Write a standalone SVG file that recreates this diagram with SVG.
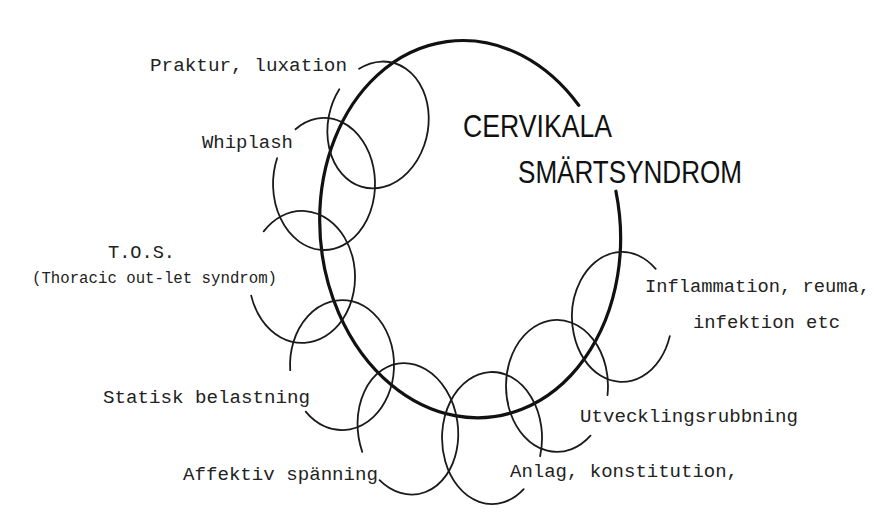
<svg xmlns="http://www.w3.org/2000/svg" width="874" height="526" viewBox="0 0 874 526">
<style>
.bg{fill:#ffffff}
.ring{fill:none;stroke:#1a1a1a;stroke-width:1.8;stroke-linecap:round}
.main{fill:none;stroke:#111;stroke-width:3.2;stroke-linecap:round}
.lbl{font-family:"Liberation Mono","DejaVu Sans Mono",monospace;font-size:19px;fill:#222}
.small{font-size:16px}
.title{font-family:"Liberation Sans","DejaVu Sans",sans-serif;font-size:31px;fill:#111}
</style>
<rect class="bg" x="0" y="0" width="874" height="526"/>
<g id="center">
  <path class="main" d="M 578.7 105.3 A 150 189 -6 1 0 615.9 191.2"/>
  <text class="title" x="463" y="137" textLength="149" lengthAdjust="spacingAndGlyphs">CERVIKALA</text>
  <text class="title" x="518" y="183" textLength="224" lengthAdjust="spacingAndGlyphs">SMÄRTSYNDROM</text>
</g>
<g id="praktur">
  <path class="ring" transform="translate(378 125) rotate(12)" d="M -30.2 -51.0 A 50 64 0 1 1 -45.3 -27.0"/>
  <text class="lbl" x="150" y="71" textLength="197" lengthAdjust="spacingAndGlyphs">Praktur, luxation</text>
</g>
<g id="whiplash">
  <path class="ring" transform="translate(324 184)" d="M -28.5 -54.7 A 51 66 0 1 1 -46.9 -25.8"/>
  <text class="lbl" x="202" y="148" textLength="91" lengthAdjust="spacingAndGlyphs">Whiplash</text>
</g>
<g id="tos">
  <path class="ring" transform="translate(302 277)" d="M -38.3 -45.6 A 53 66 0 1 1 -50.8 18.6"/>
  <text class="lbl" x="108" y="258" textLength="67" lengthAdjust="spacingAndGlyphs">T.O.S.</text>
  <text class="lbl small" x="32" y="283" textLength="245" lengthAdjust="spacingAndGlyphs">(Thoracic out-let syndrom)</text>
</g>
<g id="statisk">
  <path class="ring" transform="translate(342 365)" d="M -51.8 5.2 A 52 65 0 1 1 -36.3 46.6"/>
  <text class="lbl" x="103" y="403" textLength="207" lengthAdjust="spacingAndGlyphs">Statisk belastning</text>
</g>
<g id="affektiv">
  <path class="ring" transform="translate(408 429) rotate(-8)" d="M -48.5 16.3 A 50 66 0 1 1 -35.3 46.7"/>
  <text class="lbl" x="183" y="480" textLength="195" lengthAdjust="spacingAndGlyphs">Affektiv spänning</text>
</g>
<g id="anlag">
  <path class="ring" transform="translate(492 438)" d="M 31.7 51.1 A 50 66 0 1 1 48.1 18.2"/>
  <text class="lbl" x="510" y="477" textLength="228" lengthAdjust="spacingAndGlyphs">Anlag, konstitution,</text>
</g>
<g id="utveckling">
  <path class="ring" transform="translate(557 386)" d="M 33.5 49.7 A 51 66 0 1 1 50.5 9.1"/>
  <text class="lbl" x="580" y="422" textLength="218" lengthAdjust="spacingAndGlyphs">Utvecklingsrubbning</text>
</g>
<g id="inflammation">
  <path class="ring" transform="translate(622 317)" d="M 47.8 19.1 A 50 65 0 1 1 33.7 -48.1"/>
  <text class="lbl" x="645" y="292" textLength="225" lengthAdjust="spacingAndGlyphs">Inflammation, reuma,</text>
  <text class="lbl" x="693" y="328" textLength="147" lengthAdjust="spacingAndGlyphs">infektion etc</text>
</g>
<g id="connectors"/>
</svg>
